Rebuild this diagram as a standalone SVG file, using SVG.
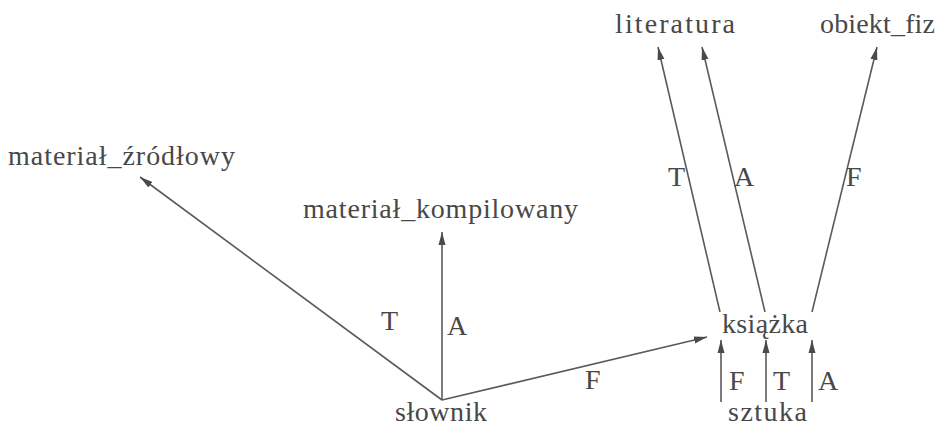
<svg xmlns="http://www.w3.org/2000/svg" width="940" height="428" viewBox="0 0 940 428">
<style>
text{font-family:'Liberation Serif','DejaVu Serif','Times New Roman',Times,serif;font-size:28px;fill:#484848}
.c line{stroke:#5a5a5a;stroke-width:1.6;marker-end:url(#ah)}
</style>
<defs>
<marker id="ah" markerUnits="userSpaceOnUse" markerWidth="14" markerHeight="10" viewBox="0 0 14 10" refX="13" refY="5" orient="auto">
<path d="M0,1.5 L13,5 L0,8.5 Z" fill="#4a4a4a"/>
</marker>
</defs>
<rect width="940" height="428" fill="#fff"/>
<g class="c" id="connectors">
<line x1="442" y1="400" x2="140" y2="177"/>
<line x1="442" y1="400" x2="442" y2="232"/>
<line x1="442" y1="400" x2="707" y2="337"/>
<line x1="721" y1="402" x2="721" y2="340"/>
<line x1="766" y1="402" x2="766" y2="340"/>
<line x1="812" y1="402" x2="812" y2="340"/>
<line x1="720" y1="312" x2="658" y2="47"/>
<line x1="765" y1="312" x2="702" y2="47"/>
<line x1="812" y1="312" x2="877" y2="47"/>
</g>
<g id="labels">
<text x="381" y="330" font-family="Liberation Serif, serif">T</text>
<text x="447" y="335" font-family="Liberation Serif, serif">A</text>
<text x="585" y="389" font-family="Liberation Serif, serif">F</text>
<text x="729" y="390" font-family="Liberation Serif, serif">F</text>
<text x="773" y="390" font-family="Liberation Serif, serif">T</text>
<text x="818" y="390" font-family="Liberation Serif, serif">A</text>
<text x="668" y="186" font-family="Liberation Serif, serif">T</text>
<text x="734" y="186" font-family="Liberation Serif, serif">A</text>
<text x="846" y="186" font-family="Liberation Serif, serif">F</text>
</g>
<g id="literatura"><text x="615" y="33" textLength="120">literatura</text></g>
<g id="obiekt_fiz"><text x="820" y="33" textLength="115">obiekt_fiz</text></g>
<g id="material_zrodlowy"><text x="8" y="165" textLength="227">materiał_źródłowy</text></g>
<g id="material_kompilowany"><text x="303" y="218" textLength="275">materiał_kompilowany</text></g>
<g id="slownik"><text x="395" y="421" textLength="92">słownik</text></g>
<g id="ksiazka"><text x="722" y="333" textLength="86">książka</text></g>
<g id="sztuka"><text x="728" y="421" textLength="79">sztuka</text></g>
</svg>
